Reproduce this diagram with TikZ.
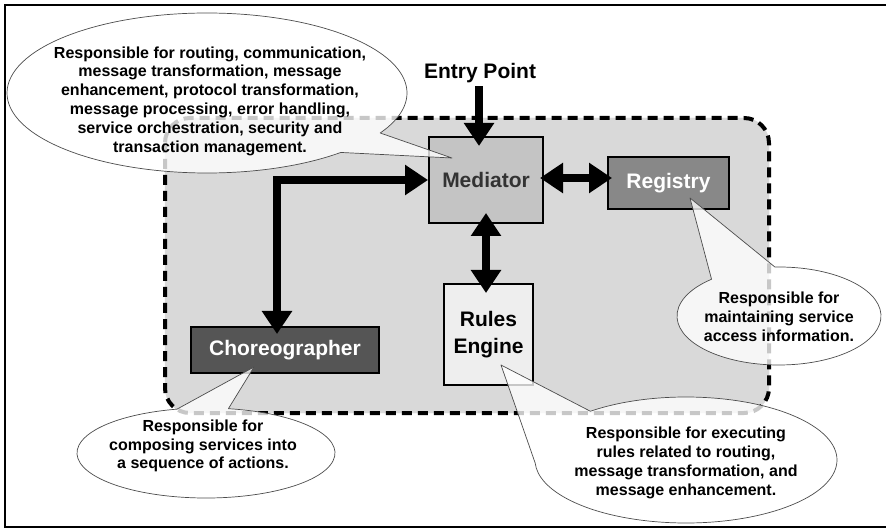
\documentclass[tikz,border=0pt]{standalone}
\usepackage{fontspec}
\setmainfont{Liberation Sans}
\usetikzlibrary{arrows.meta,calc}
\definecolor{zonegray}{HTML}{D9D9D9}
\definecolor{medgray}{HTML}{C4C4C4}
\definecolor{reggray}{HTML}{888888}
\definecolor{chogray}{HTML}{555555}
\definecolor{rulegray}{HTML}{EEEEEE}
\definecolor{medtext}{HTML}{333333}
\begin{document}
\begin{tikzpicture}[x=1pt,y=-1pt,
  box/.style={draw=black,line width=2pt,inner sep=0pt,align=center,
    font=\bfseries\fontsize{21}{27}\selectfont},
  flow/.style={line width=8.5pt,line join=miter,
    arrows={-Triangle[length=23pt,width=29pt]}},
  biflow/.style={flow,arrows={Triangle[length=23pt,width=29pt]-Triangle[length=23pt,width=29pt]}},
  bubble/.style={draw=black!70,line width=0.7pt,fill=white,fill opacity=0.78,line join=round},
  note/.style={align=center,font=\bfseries\fontsize{16}{18.8}\selectfont,text=black}]
\useasboundingbox (0,0) rectangle (886,529);

% frame
\draw[line width=2.5pt] (890,5) -- (5,5) -- (5,527) -- (890,527);

% ESB zone
\draw[zonegray,fill=zonegray,rounded corners=25pt] (165,118) rectangle (769,413);
\draw[line width=4pt,dash pattern=on 10pt off 6pt,rounded corners=25pt] (165,118) rectangle (769,413);

% components
\node[box,fill=medgray,text=medtext,minimum width=114pt,minimum height=86pt] (med) at (486,180) {Mediator};
\node[box,fill=reggray,text=white,minimum width=121pt,minimum height=52pt] (reg) at (668.5,183) {Registry};
\node[box,fill=rulegray,text=black,minimum width=89pt,minimum height=101pt] (rul) at (488.5,334.5) {Rules\\Engine};
\node[box,fill=chogray,text=white,minimum width=188pt,minimum height=46pt] (cho) at (285,350) {Choreographer};
\node[font=\bfseries\fontsize{21}{25}\selectfont] (entry) at (480,73) {Entry Point};

% connectors
\coordinate (elbow) at (277,180);
\draw[flow,shorten >=-9pt] (entry.south -| 479,0) -- (479,137);
\draw[biflow,shorten >=-8pt] (med.west) -- (elbow) -- (elbow |- cho.north);
\draw[biflow,shorten <=-4pt,shorten >=-5pt] (med.east |- 0,178) -- (reg.west |- 0,178);
\draw[biflow,shorten <=-10pt,shorten >=-9pt] (486,223) -- (486,284);

% speech bubbles: ellipse with a pointed tail ending inside a component
% (y grows downward, so angles are measured clockwise on the page)
\coordinate (tipmed) at (452,158);
\coordinate (tipreg) at (690,198);
\coordinate (tiprul) at (501,365);
\coordinate (tipcho) at (254,367);
\coordinate (cmed) at (207,93);
\coordinate (creg) at (779,316);
\coordinate (crul) at (686,460);
\coordinate (ccho) at (206,453);

\draw[bubble] ($(cmed)+(48:200 and 80)$)
  arc[start angle=48,end angle=390,x radius=200,y radius=80] -- (tipmed) -- cycle;
\draw[bubble] ($(creg)+(267.7:102 and 49)$)
  arc[start angle=267.7,end angle=588.6,x radius=102,y radius=49] -- (tipreg) -- cycle;
\draw[bubble] ($(crul)+(230.7:151 and 63)$)
  arc[start angle=230.7,end angle=537.2,x radius=151,y radius=63] -- (tiprul) -- cycle;
\draw[bubble] ($(ccho)+(280:129 and 45)$)
  arc[start angle=280,end angle=617,x radius=129,y radius=45] -- (tipcho) -- cycle;

\node[note] (nmed) at (210,101) {Responsible for routing, communication,\\
  message transformation, message\\
  enhancement, protocol transformation,\\
  message processing, error handling,\\
  service orchestration, security and\\
  transaction management.};
\node[note] (nreg) at (779,317) {Responsible for\\maintaining service\\access information.};
\node[note] (nrul) at (686,463) {Responsible for executing\\rules related to routing,\\
  message transformation, and\\message enhancement.};
\node[note] (ncho) at (203,446) {Responsible for\\composing services into\\a sequence of actions.};
\end{tikzpicture}
\end{document}
